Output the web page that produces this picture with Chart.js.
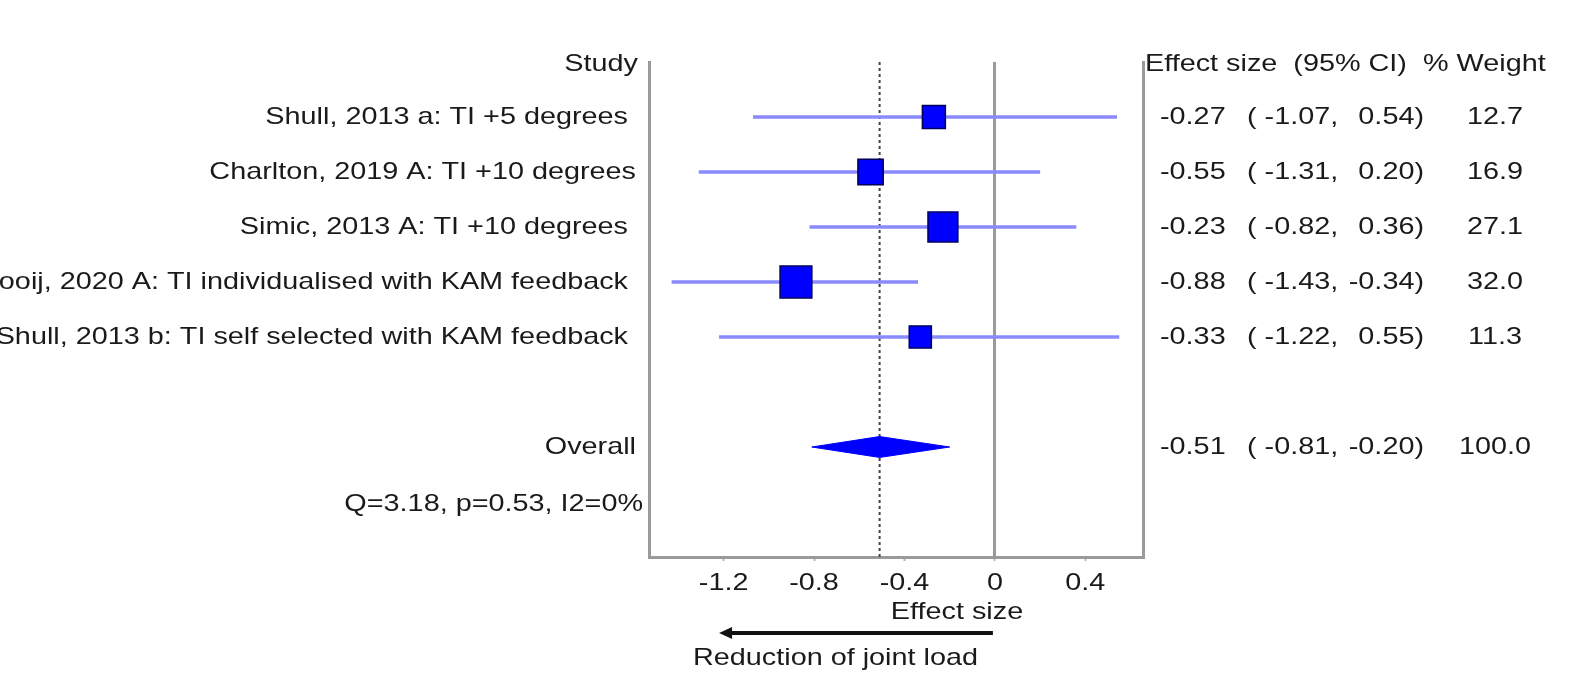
<!DOCTYPE html>
<html><head><meta charset="utf-8">
<script src="https://cdn.jsdelivr.net/npm/chart.js@4.4.1/dist/chart.umd.min.js"></script>
<style>html,body{margin:0;padding:0;background:#fff;overflow:hidden}canvas{display:block}</style>
</head><body>
<canvas id="c" width="1571" height="677"></canvas>
<script>
// ---- data ----
const studies = [
  'Shull, 2013 a: TI +5 degrees ',
  'Charlton, 2019 A: TI +10 degrees',
  'Simic, 2013 A: TI +10 degrees ',
  'Rooij, 2020 A: TI individualised with KAM feedback ',
  'Shull, 2013 b: TI self selected with KAM feedback '
];
const effectSizes = [-0.27, -0.55, -0.23, -0.88, -0.33];
const ciLower     = [-1.07, -1.31, -0.82, -1.43, -1.22];
const ciUpper     = [ 0.54,  0.20,  0.36, -0.34,  0.55];
const weights     = [12.7, 16.9, 27.1, 32.0, 11.3];
const overallLabel = 'Overall';
const overall = [-0.51, -0.81, -0.20, 100.0]; // effect, lower, upper, weight
const heterogeneity = 'Q=3.18, p=0.53, I2=0%';
const xTickValues = [-1.2, -0.8, -0.4, 0, 0.4];
const xTickLabels = ['-1.2', '-0.8', '-0.4', '0', '0.4'];
const xRange = [-1.53, 0.655];
const nullEffect = 0;
const studyHeader = 'Study';
const esHeader = 'Effect size  (95% CI)';
const weightHeader = '% Weight';
const xTitle = 'Effect size';
const arrowLabel = 'Reduction of joint load';
const arrowEnd = -1.22;

// ---- style ----
const FONT = '24px "Liberation Sans", Arial, sans-serif';
const STRETCH = 1.2;
const TEXT = '#1a1a1a';
const FRAME = '#9a9a9a';
const overallRow = studies.length + 2;
const hetRow = studies.length + 3;
const yMax = studies.length + 4;
const DIAMOND_HALF = 0.19;
const boxSide = w => 4.2 * Math.sqrt(w) + 8;

const datasets = [];
datasets.push({
  label: 'Studies',
  data: effectSizes.map((v, i) => ({x: v, y: i + 1})),
  pointStyle: 'rect',
  pointRadius: weights.map(w => boxSide(w) / (2 * Math.SQRT1_2)),
  pointHoverRadius: weights.map(w => boxSide(w) / (2 * Math.SQRT1_2)),
  backgroundColor: '#0000ff',
  borderColor: '#00005a',
  borderWidth: 1.5,
  showLine: false,
  order: 0
});
datasets.push({
  label: 'Overall',
  type: 'line',
  data: [
    {x: overall[1], y: overallRow},
    {x: overall[0], y: overallRow - DIAMOND_HALF},
    {x: overall[2], y: overallRow},
    {x: overall[0], y: overallRow + DIAMOND_HALF},
    {x: overall[1], y: overallRow}
  ],
  fill: 'shape',
  backgroundColor: '#0000ff',
  borderColor: '#0000ff',
  borderWidth: 1,
  pointRadius: 0,
  tension: 0,
  order: 1
});
studies.forEach((s, i) => datasets.push({
  label: 'CI ' + i,
  type: 'line',
  data: [{x: ciLower[i], y: i + 1}, {x: ciUpper[i], y: i + 1}],
  borderColor: '#8a8aff',
  borderWidth: 3.5,
  pointRadius: 0,
  order: 2
}));
datasets.push({
  label: 'Overall line',
  type: 'line',
  data: [{x: overall[0], y: 0}, {x: overall[0], y: yMax}],
  borderColor: '#444',
  borderWidth: 2,
  borderDash: [3, 3],
  pointRadius: 0,
  order: 3
});

const textPlugin = {
  id: 'forestText',
  afterDraw(chart) {
    const ctx = chart.ctx, ca = chart.chartArea, xs = chart.scales.x, ys = chart.scales.y;
    const put = (t, x, y, align) => {
      ctx.save();
      ctx.font = FONT; ctx.fillStyle = TEXT; ctx.textBaseline = 'middle'; ctx.textAlign = align;
      ctx.translate(x, y); ctx.scale(STRETCH, 1); ctx.fillText(t, 0, 0);
      ctx.restore();
    };
    const hy = ys.getPixelForValue(0) + 2;
    put(studyHeader, ca.left - 11, hy, 'right');
    put(esHeader, ca.right + 2, hy, 'left');
    put(weightHeader, ca.right + 280, hy, 'left');
    const row = (label, es, lo, hi, w, r) => {
      const y = ys.getPixelForValue(r);
      put(label, ca.left - 13, y, 'right');
      put(es.toFixed(2), ca.right + 17, y, 'left');
      put('( ' + lo.toFixed(2) + ',', ca.right + 104, y, 'left');
      put(hi.toFixed(2) + ')', ca.right + 281, y, 'right');
      put(w.toFixed(1), ca.right + 352, y, 'center');
    };
    studies.forEach((s, i) => row(s, effectSizes[i], ciLower[i], ciUpper[i], weights[i], i + 1));
    row(overallLabel, overall[0], overall[1], overall[2], overall[3], overallRow);
    put(heterogeneity, ca.left - 6, ys.getPixelForValue(hetRow) + 2, 'right');
    xs.ticks.forEach((t, i) => put(xTickLabels[i], xs.getPixelForValue(t.value), ca.bottom + 26, 'center'));
    put(xTitle, ca.left + 308, ca.bottom + 55, 'center');
    // arrow
    const x0 = xs.getPixelForValue(nullEffect), x1 = xs.getPixelForValue(arrowEnd), ay = ca.bottom + 76;
    ctx.save();
    ctx.strokeStyle = '#111'; ctx.fillStyle = '#111'; ctx.lineWidth = 4;
    ctx.beginPath(); ctx.moveTo(x0 - 2, ay); ctx.lineTo(x1 + 10, ay); ctx.stroke();
    ctx.beginPath(); ctx.moveTo(x1, ay); ctx.lineTo(x1 + 13, ay - 6); ctx.lineTo(x1 + 13, ay + 6); ctx.closePath(); ctx.fill();
    ctx.restore();
    put(arrowLabel, ca.left + 44, ca.bottom + 101, 'left');
  }
};

new Chart(document.getElementById('c'), {
  type: 'scatter',
  data: {datasets},
  plugins: [textPlugin],
  options: {
    responsive: false,
    animation: false,
    events: [],
    layout: {autoPadding: false, padding: {left: 649, right: 428, top: 62, bottom: 120}},
    plugins: {legend: {display: false}, tooltip: {enabled: false}},
    scales: {
      x: {
        type: 'linear', min: xRange[0], max: xRange[1],
        afterBuildTicks: a => { a.ticks = xTickValues.map(v => ({value: v})); },
        afterFit: s => { s.height = 0; },
        ticks: {display: false},
        grid: {
          display: true, drawOnChartArea: true,
          color: c => (c.tick && c.tick.value === nullEffect) ? FRAME : 'rgba(0,0,0,0)',
          lineWidth: 3, drawTicks: true, tickLength: 4, tickColor: '#b5b5b5', tickWidth: 2
        },
        border: {display: true, color: FRAME, width: 3}
      },
      y: {
        type: 'linear', min: 0, max: yMax, reverse: true,
        afterFit: s => { s.width = 0; },
        ticks: {display: false}, grid: {display: false},
        border: {display: true, color: FRAME, width: 3}
      },
      y2: {
        type: 'linear', position: 'right', min: 0, max: yMax, reverse: true,
        afterFit: s => { s.width = 0; },
        ticks: {display: false}, grid: {display: false},
        border: {display: true, color: FRAME, width: 3}
      }
    }
  }
});
</script>
</body></html>
